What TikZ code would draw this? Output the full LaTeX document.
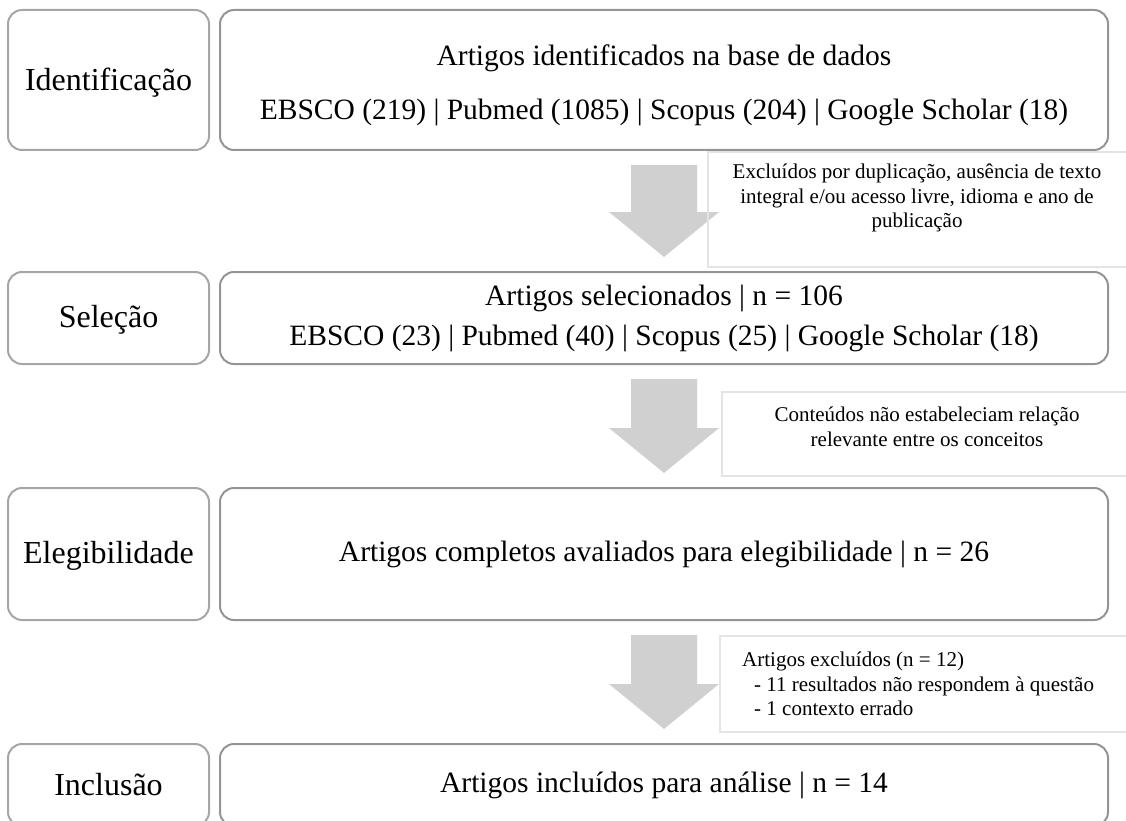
\documentclass[tikz,border=0pt]{standalone}
\usepackage{fontspec}
\setmainfont{Liberation Serif}
\usetikzlibrary{calc}
\definecolor{leftgray}{RGB}{166,166,166}
\definecolor{rightgray}{RGB}{148,148,148}
\definecolor{arrowfill}{RGB}{208,208,208}
\definecolor{sidegray}{RGB}{228,228,228}
\newcommand{\flowarrow}[2]{%
  \fill[arrowfill] ($(#1.south)+(-33,15)$) -- ($(#1.south)+(33,15)$) -- ($(#2.north)+(33,-60)$) -- ($(#2.north)+(55,-60)$) -- ($(#2.north)+(0,-15)$) -- ($(#2.north)+(-55,-60)$) -- ($(#2.north)+(-33,-60)$) -- cycle;}
\begin{document}
\begin{tikzpicture}[x=1pt,y=-1pt,
  lbox/.style={draw=leftgray, line width=2pt, rounded corners=14pt, minimum width=201pt, inner sep=0pt, outer sep=0pt, font=\fontsize{32}{38}\selectfont, align=center},
  rbox/.style={draw=rightgray, line width=2pt, rounded corners=14pt, minimum width=888pt, inner sep=0pt, outer sep=0pt, font=\fontsize{29.5}{40}\selectfont, align=center},
  sidebox/.style={draw=sidegray, line width=1.3pt, inner sep=0pt, outer sep=0pt, anchor=north west},
  sidetext/.style={font=\fontsize{21}{24.5}\selectfont, inner sep=0pt}]
\useasboundingbox (0,0) rectangle (1126,821);
% stage labels
\node[lbox, minimum height=140pt] (l1) at (108.5,80) {\rule{0pt}{27pt}Identificação};
\node[lbox, minimum height=92pt] (l2) at (108.5,318) {\rule{0pt}{25pt}Seleção};
\node[lbox, minimum height=132pt] (l3) at (108.5,554) {\rule{0pt}{25pt}Elegibilidade};
\node[lbox, minimum height=82pt] (l4) at (108.5,785) {Inclusão};
% main boxes
\node[rbox, minimum height=140pt] (r1) at (664,80) {\rule{0pt}{32pt}Artigos identificados na base de dados\\[14pt]EBSCO (219) | Pubmed (1085) | Scopus (204) | Google Scholar (18)};
\node[rbox, minimum height=92pt] (r2) at (664,318) {Artigos selecionados | n = 106\\EBSCO (23) | Pubmed (40) | Scopus (25) | Google Scholar (18)};
\node[rbox, minimum height=132pt] (r3) at (664,554) {Artigos completos avaliados para elegibilidade | n = 26};
\node[rbox, minimum height=82pt] (r4) at (664,785) {Artigos incluídos para análise | n = 14};
% arrows
\flowarrow{r1}{r2}
\flowarrow{r2}{r3}
\flowarrow{r3}{r4}
% side notes
\node[sidebox, minimum width=422pt, minimum height=115pt] (s1) at (708,152) {};
\node[sidebox, minimum width=408pt, minimum height=84pt] (s2) at (722,392) {};
\node[sidebox, minimum width=410pt, minimum height=96pt] (s3) at (720,636) {};
\node[sidetext, align=center] (t1) at (917,198) {Excluídos por duplicação, ausência de texto\\integral e/ou acesso livre, idioma e ano de\\publicação};
\node[sidetext, align=center] (t2) at (927,427) {Conteúdos não estabeleciam relação\\relevante entre os conceitos};
\node[sidetext, align=left, anchor=west] (t3) at (742,684) {Artigos excluídos (n = 12)\\\hspace*{12pt}- 11 resultados não respondem à questão\\\hspace*{12pt}- 1 contexto errado};
\end{tikzpicture}
\end{document}
